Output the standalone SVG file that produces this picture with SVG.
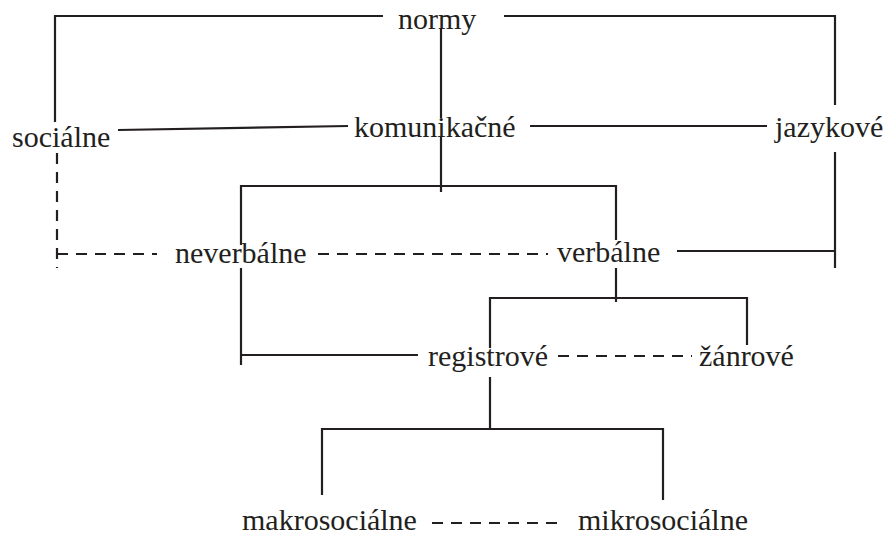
<svg xmlns="http://www.w3.org/2000/svg" width="890" height="535" viewBox="0 0 890 535">
<style>
.s{fill:none;stroke:#231f20;stroke-width:2.2}
.d{fill:none;stroke:#231f20;stroke-width:2.2;stroke-dasharray:11 8}
</style>
<rect width="890" height="535" fill="#fff"/>
<g id="connectors">
<polyline class="s" points="383,16 55,16 55,122"/>
<polyline class="s" points="504,16 835,16 835,105"/>
<line class="s" x1="441" y1="28" x2="441" y2="118"/>
<line class="s" x1="118" y1="130" x2="348" y2="126"/>
<line class="s" x1="530" y1="126" x2="767" y2="126"/>
<line class="s" x1="441" y1="137" x2="441" y2="192"/>
<polyline class="s" points="241,245 241,186 616,186 616,240"/>
<line class="s" x1="677" y1="251" x2="835" y2="251"/>
<line class="s" x1="835" y1="152" x2="835" y2="268"/>
<line class="s" x1="241" y1="268" x2="241" y2="365"/>
<line class="s" x1="241" y1="355" x2="418" y2="355"/>
<line class="s" x1="616" y1="268" x2="616" y2="302"/>
<polyline class="s" points="490,348 490,298 747,298 747,345"/>
<line class="s" x1="490" y1="377" x2="490" y2="430"/>
<polyline class="s" points="322,495 322,429 663,429 663,500"/>
<line class="d" x1="57" y1="153" x2="57" y2="268"/>
<line class="d" x1="57" y1="254" x2="157" y2="254"/>
<line class="d" x1="318" y1="254" x2="548" y2="254"/>
<line class="d" x1="558" y1="356" x2="692" y2="356"/>
<line class="d" x1="432" y1="523" x2="563" y2="523"/>
</g>
<g font-family="Liberation Serif, DejaVu Serif, serif" font-size="30" fill="#231f20">
<g id="normy"><text x="398" y="29">normy</text></g>
<g id="socialne"><text x="12" y="147">sociálne</text></g>
<g id="komunikacne"><text x="354" y="137">komunikačné</text></g>
<g id="jazykove"><text x="775" y="137">jazykové</text></g>
<g id="neverbalne"><text x="175" y="263">neverbálne</text></g>
<g id="verbalne"><text x="557" y="262">verbálne</text></g>
<g id="registrove"><text x="428" y="366">registrové</text></g>
<g id="zanrove"><text x="699" y="366">žánrové</text></g>
<g id="makrosocialne"><text x="242" y="530">makrosociálne</text></g>
<g id="mikrosocialne"><text x="578" y="530">mikrosociálne</text></g>
</g>
</svg>
